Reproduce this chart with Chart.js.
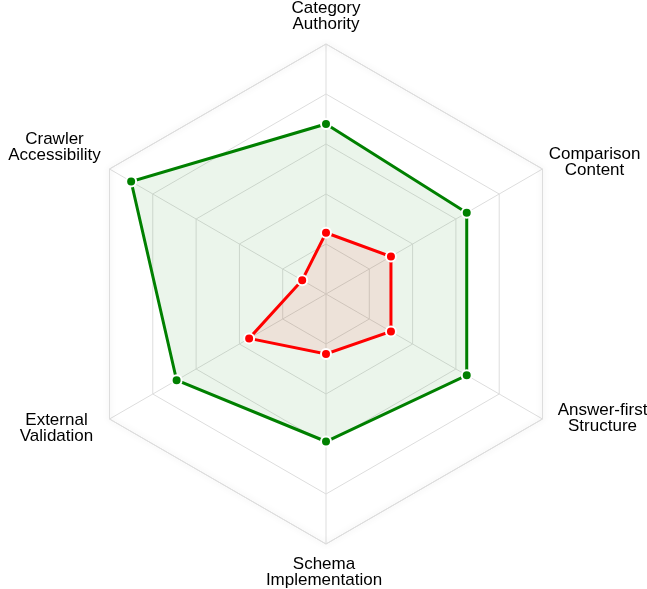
<!DOCTYPE html>
<html>
<head>
<meta charset="utf-8">
<script src="https://cdn.jsdelivr.net/npm/chart.js@4.4.1/dist/chart.umd.min.js"></script>
<style>
  html, body { margin: 0; padding: 0; background: #fff; }
  #wrap { width: 647px; height: 589px; }
</style>
</head>
<body>
<div id="wrap"><canvas id="radar"></canvas></div>
<script>
const categories = [
  ['Category', 'Authority'],
  ['Comparison', 'Content'],
  ['Answer-first', 'Structure'],
  ['Schema', 'Implementation'],
  ['External', 'Validation'],
  ['Crawler', 'Accessibility']
];
const greenScores = [68, 65, 65, 59, 69, 90];
const redScores = [24.5, 30, 30, 24, 35.5, 11];

const labelFont = '17px "Liberation Sans", Arial, sans-serif';
const labelLineGap = 16;
// where each label sits relative to the outer end of its axis (centre x, first baseline y)
const labelNudge = [
  [0, -31.5],
  [52, -10],
  [60, -4.5],
  [-2, 24.5],
  [-53, 5.5],
  [-55, -25]
];

// soft shadow on the outer ring + centred multi-line labels
const radarExtras = {
  id: 'radarExtras',
  beforeDatasetsDraw(chart) {
    const r = chart.scales.r;
    const ctx = chart.ctx;
    ctx.save();
    ctx.beginPath();
    for (let i = 0; i < categories.length; i++) {
      const p = r.getPointPosition(i, r.drawingArea);
      if (i === 0) ctx.moveTo(p.x, p.y); else ctx.lineTo(p.x, p.y);
    }
    ctx.closePath();
    ctx.shadowColor = 'rgba(0,0,0,0.18)';
    ctx.shadowBlur = 6;
    ctx.strokeStyle = '#dddddd';
    ctx.lineWidth = 1;
    ctx.stroke();
    ctx.restore();
  },
  afterDraw(chart) {
    const r = chart.scales.r;
    const ctx = chart.ctx;
    ctx.save();
    ctx.font = labelFont;
    ctx.fillStyle = '#000000';
    ctx.textAlign = 'center';
    ctx.textBaseline = 'alphabetic';
    categories.forEach((lines, i) => {
      const end = r.getPointPosition(i, r.drawingArea);
      const x = end.x + labelNudge[i][0];
      const y = end.y + labelNudge[i][1];
      lines.forEach((t, j) => ctx.fillText(t, x, y + j * labelLineGap));
    });
    ctx.restore();
  }
};

new Chart(document.getElementById('radar'), {
  type: 'radar',
  data: {
    labels: categories,
    datasets: [
      {
        label: 'Competitor',
        data: redScores,
        borderColor: '#ff0000',
        backgroundColor: 'rgba(255, 0, 0, 0.08)',
        pointBackgroundColor: '#ff0000',
        pointBorderColor: '#ffffff',
        borderWidth: 3,
        pointBorderWidth: 2,
        pointRadius: 5,
        fill: true,
        order: 0
      },
      {
        label: 'Target',
        data: greenScores,
        borderColor: '#008000',
        backgroundColor: 'rgba(0, 128, 0, 0.08)',
        pointBackgroundColor: '#008000',
        pointBorderColor: '#ffffff',
        borderWidth: 3,
        pointBorderWidth: 2,
        pointRadius: 5,
        fill: true,
        order: 1
      }
    ]
  },
  options: {
    responsive: true,
    maintainAspectRatio: false,
    animation: false,
    layout: { padding: { left: 4 } },
    plugins: {
      legend: { display: false },
      tooltip: { enabled: false }
    },
    scales: {
      r: {
        min: 0,
        max: 100,
        ticks: { display: false, stepSize: 20 },
        grid: { color: '#dddddd', lineWidth: 1 },
        angleLines: { color: '#dddddd', lineWidth: 1 },
        pointLabels: {
          color: 'rgba(0,0,0,0)',
          padding: 10,
          font: { family: '"Liberation Sans", Arial, sans-serif', size: 17, lineHeight: 1 }
        }
      }
    }
  },
  plugins: [radarExtras]
});
</script>
</body>
</html>
